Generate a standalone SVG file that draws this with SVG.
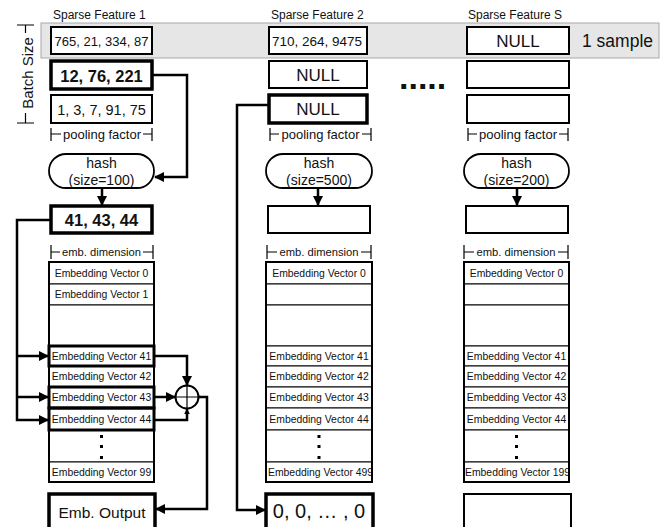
<svg xmlns="http://www.w3.org/2000/svg" width="667" height="527" viewBox="0 0 667 527">
<defs>
<marker id="ah" viewBox="0 0 10 10" refX="9" refY="5" markerWidth="10" markerHeight="10" markerUnits="userSpaceOnUse" orient="auto">
<path d="M0,0 L10,5 L0,10 Z" fill="#000"/>
</marker>
<marker id="ahs" viewBox="0 0 10 10" refX="9" refY="5" markerWidth="6" markerHeight="6" markerUnits="userSpaceOnUse" orient="auto">
<path d="M0,0 L10,5 L0,10 Z" fill="#000"/>
</marker>
<style>
text{font-family:"Liberation Sans",Arial,sans-serif;fill:#111}
.hdr{font-size:12px}
.c{text-anchor:middle;dominant-baseline:central}
.box{fill:#fff;stroke:#000;stroke-width:2}
.thick{fill:#fff;stroke:#000;stroke-width:3.5}
.row{fill:#fff;stroke:#000;stroke-width:1}
.trow{fill:none;stroke:#000;stroke-width:3}
.tbl{fill:none;stroke:#000;stroke-width:2}
.br{fill:none;stroke:#000;stroke-width:1.2}
.con{fill:none;stroke:#000;stroke-width:2.5}
.ev{font-size:10.4px}
.bf{font-size:13px}
.hash{fill:#fff;stroke:#000;stroke-width:1.8}
</style>
</defs>
<rect x="0" y="0" width="667" height="527" fill="#fff"/>

<!-- batch band -->
<g id="band">
<rect x="41" y="23" width="618" height="35" fill="#e6e6e6" stroke="#a8a8a8" stroke-width="1"/>
<text x="582" y="47" font-size="17.5">1 sample</text>
</g>

<g id="batchsize">
<path class="br" d="M17,25 H34 M25.5,25 V33 M25.5,113 V123 M17,123 H34"/>
<text transform="translate(27,73) rotate(-90)" class="c" font-size="15">Batch Size</text>
</g>

<!-- headers -->
<text class="hdr" x="53" y="18.5">Sparse Feature 1</text>
<text class="hdr" x="271" y="18.5">Sparse Feature 2</text>
<text class="hdr" x="468" y="18.5">Sparse Feature S</text>

<!-- Column 1 -->
<g id="f1-s1"><rect class="box" x="51" y="27" width="101" height="27"/><text class="c" x="101.5" y="41" font-size="13">765, 21, 334, 87</text></g>
<g id="f1-s2"><rect class="thick" x="51" y="61" width="101" height="28"/><text class="c" x="101.5" y="75.5" font-size="16.5" font-weight="bold">12, 76, 221</text></g>
<g id="f1-s3"><rect class="box" x="51" y="95" width="101" height="28"/><text class="c" x="101.5" y="109.5" font-size="14.5">1, 3, 7, 91, 75</text></g>
<g id="f1-pool"><path class="br" d="M51,128 V141 M51,134 H61 M143,134 H152 M152,128 V141"/><text class="c" x="102" y="134" font-size="13">pooling factor</text></g>
<g id="f1-hash"><rect class="hash" x="49" y="154" width="105" height="34" rx="17"/><text class="c" x="101.5" y="163" font-size="14">hash</text><text class="c" x="101.5" y="180" font-size="14">(size=100)</text></g>
<g id="f1-idx"><rect class="thick" x="51" y="206" width="101" height="27"/><text class="c" x="101.5" y="220" font-size="16.5" font-weight="bold">41, 43, 44</text></g>
<g id="f1-dim"><path class="br" d="M51,245 V259 M51,252 H60 M143,252 H153 M153,245 V259"/><text class="c" x="101.5" y="252" font-size="11.2">emb. dimension</text></g>
<g id="f1-table">
<rect class="row" x="49" y="262" width="105" height="22"/><text class="c ev" x="101.5" y="273">Embedding Vector 0</text>
<rect class="row" x="49" y="284" width="105" height="21"/><text class="c ev" x="101.5" y="294.5">Embedding Vector 1</text>
<rect class="row" x="49" y="305" width="105" height="41"/>
<rect class="row" x="49" y="346" width="105" height="20"/><text class="c ev" x="101.5" y="356">Embedding Vector 41</text>
<rect class="row" x="49" y="366" width="105" height="21"/><text class="c ev" x="101.5" y="376.5">Embedding Vector 42</text>
<rect class="row" x="49" y="387" width="105" height="21"/><text class="c ev" x="101.5" y="397.5">Embedding Vector 43</text>
<rect class="row" x="49" y="408" width="105" height="22"/><text class="c ev" x="101.5" y="419">Embedding Vector 44</text>
<rect class="row" x="49" y="430" width="105" height="32"/>
<rect x="100" y="435" width="3" height="3"/><rect x="100" y="445" width="3" height="3"/><rect x="100" y="456" width="3" height="3"/>
<rect class="row" x="49" y="462" width="105" height="20"/><text class="c ev" x="101.5" y="472">Embedding Vector 99</text>
<rect class="tbl" x="49" y="262" width="105" height="220"/>
<rect class="trow" x="49" y="346" width="105" height="20"/>
<rect class="trow" x="49" y="387" width="105" height="21"/>
<rect class="trow" x="49" y="408" width="105" height="22"/>
</g>
<g id="sum"><circle cx="187" cy="397" r="11.5" fill="#fff" stroke="#000" stroke-width="2"/><path d="M175.5,397 H198.5 M187,385.5 V408.5" stroke="#000" stroke-width="1.2"/></g>
<g id="f1-out"><rect class="thick" x="49" y="494" width="106" height="40"/><text class="c" x="102" y="512" font-size="15.5">Emb. Output</text></g>

<!-- Column 2 -->
<g id="f2-s1"><rect class="box" x="269" y="27" width="98" height="27"/><text class="c" x="317" y="41" font-size="13.5">710, 264, 9475</text></g>
<g id="f2-s2"><rect class="box" x="269" y="61" width="98" height="27"/><text class="c" x="318" y="75" font-size="17">NULL</text></g>
<g id="f2-s3"><rect class="thick" x="269" y="95" width="98" height="28"/><text class="c" x="318" y="109" font-size="17">NULL</text></g>
<g id="f2-pool"><path class="br" d="M270,128 V141 M270,134 H279 M362,134 H371 M371,128 V141"/><text class="c" x="320.5" y="134" font-size="13">pooling factor</text></g>
<g id="f2-hash"><rect class="hash" x="266" y="154" width="106" height="34" rx="17"/><text class="c" x="319" y="163" font-size="14">hash</text><text class="c" x="319" y="180" font-size="14">(size=500)</text></g>
<g id="f2-idx"><rect class="box" x="268" y="206" width="102" height="27"/></g>
<g id="f2-dim"><path class="br" d="M267,245 V259 M267,252 H277 M361,252 H371 M371,245 V259"/><text class="c" x="319" y="252" font-size="11.2">emb. dimension</text></g>
<g id="f2-table">
<rect class="row" x="266" y="262" width="106" height="22"/><text class="c ev" x="319" y="273">Embedding Vector 0</text>
<rect class="row" x="266" y="284" width="106" height="21"/>
<rect class="row" x="266" y="305" width="106" height="41"/>
<rect class="row" x="266" y="346" width="106" height="20"/><text class="c ev" x="319" y="356">Embedding Vector 41</text>
<rect class="row" x="266" y="366" width="106" height="21"/><text class="c ev" x="319" y="376.5">Embedding Vector 42</text>
<rect class="row" x="266" y="387" width="106" height="21"/><text class="c ev" x="319" y="397.5">Embedding Vector 43</text>
<rect class="row" x="266" y="408" width="106" height="22"/><text class="c ev" x="319" y="419">Embedding Vector 44</text>
<rect class="row" x="266" y="430" width="106" height="32"/>
<rect x="317.5" y="435" width="3" height="3"/><rect x="317.5" y="445" width="3" height="3"/><rect x="317.5" y="456" width="3" height="3"/>
<rect class="row" x="266" y="462" width="106" height="20"/><text class="ev" x="268" y="472" dominant-baseline="central">Embedding Vector 499</text>
<rect class="tbl" x="266" y="262" width="106" height="220"/>
</g>
<g id="f2-out"><rect class="thick" x="266" y="494" width="107" height="40"/><text class="c" x="319" y="511" font-size="20">0, 0, … , 0</text></g>

<!-- ellipsis -->
<text x="399" y="89" font-size="34" font-weight="bold">.....</text>

<!-- Column S -->
<g id="fS-s1"><rect class="box" x="467" y="27" width="102" height="27"/><text class="c" x="518" y="41" font-size="17">NULL</text></g>
<g id="fS-s2"><rect class="box" x="467" y="61" width="102" height="27"/></g>
<g id="fS-s3"><rect class="box" x="467" y="95" width="102" height="28"/></g>
<g id="fS-pool"><path class="br" d="M468,128 V141 M468,134 H477 M559,134 H568 M568,128 V141"/><text class="c" x="518" y="134" font-size="13">pooling factor</text></g>
<g id="fS-hash"><rect class="hash" x="464" y="154" width="105" height="34" rx="17"/><text class="c" x="516.5" y="163" font-size="14">hash</text><text class="c" x="516.5" y="180" font-size="14">(size=200)</text></g>
<g id="fS-idx"><rect class="box" x="466" y="206" width="102" height="27"/></g>
<g id="fS-dim"><path class="br" d="M464,245 V259 M464,252 H474 M558,252 H568 M568,245 V259"/><text class="c" x="516" y="252" font-size="11.2">emb. dimension</text></g>
<g id="fS-table">
<rect class="row" x="464" y="262" width="105" height="22"/><text class="c ev" x="516.5" y="273">Embedding Vector 0</text>
<rect class="row" x="464" y="284" width="105" height="21"/>
<rect class="row" x="464" y="305" width="105" height="41"/>
<rect class="row" x="464" y="346" width="105" height="20"/><text class="c ev" x="516.5" y="356">Embedding Vector 41</text>
<rect class="row" x="464" y="366" width="105" height="21"/><text class="c ev" x="516.5" y="376.5">Embedding Vector 42</text>
<rect class="row" x="464" y="387" width="105" height="21"/><text class="c ev" x="516.5" y="397.5">Embedding Vector 43</text>
<rect class="row" x="464" y="408" width="105" height="22"/><text class="c ev" x="516.5" y="419">Embedding Vector 44</text>
<rect class="row" x="464" y="430" width="105" height="32"/>
<rect x="515" y="435" width="3" height="3"/><rect x="515" y="445" width="3" height="3"/><rect x="515" y="456" width="3" height="3"/>
<rect class="row" x="464" y="462" width="105" height="20"/><text class="ev" x="465" y="472" dominant-baseline="central">Embedding Vector 199</text>
<rect class="tbl" x="464" y="262" width="105" height="220"/>
</g>
<g id="fS-out"><rect class="box" x="464" y="494" width="107" height="40"/></g>

<!-- connectors -->
<g id="connectors">
<path class="con" d="M153,75 H187 V177 H155" marker-end="url(#ah)"/>
<path class="con" d="M102,188 V205" marker-end="url(#ah)"/>
<path class="con" d="M318,188 V205" marker-end="url(#ah)"/>
<path class="con" d="M517,188 V205" marker-end="url(#ah)"/>
<path class="con" d="M51,220 H17 V420 H48" marker-end="url(#ah)"/>
<path class="con" d="M17,356 H48" marker-end="url(#ah)"/>
<path class="con" d="M17,397 H48" marker-end="url(#ah)"/>
<path class="con" d="M155,356 H187 V385" marker-end="url(#ah)"/>
<path class="con" d="M155,397 H175" marker-end="url(#ah)"/>
<path class="con" d="M155,420 H187 V409" marker-end="url(#ahs)"/>
<path class="con" d="M199,397 H207 V509 H156" marker-end="url(#ah)"/>
<path class="con" d="M269,105 H237 V510 H265" marker-end="url(#ah)"/>
</g>
</svg>
